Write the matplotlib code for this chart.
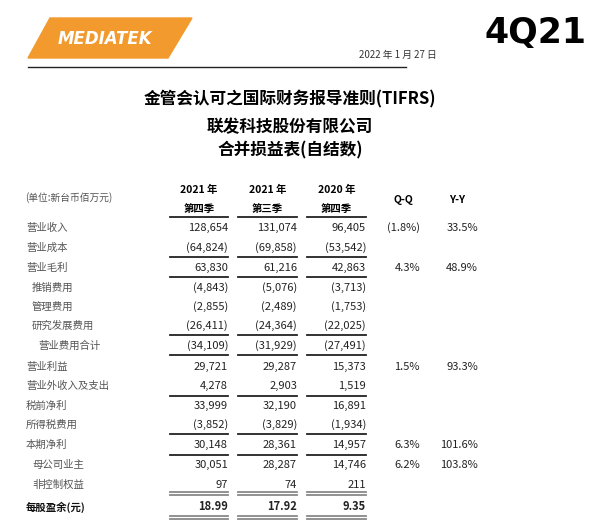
import matplotlib
matplotlib.use("Agg")
import matplotlib.pyplot as plt
from matplotlib.patches import Polygon

FONT = "Noto Sans CJK SC"
plt.rcParams["font.family"] = FONT

row_labels = ["营业收入", "营业成本", "营业毛利", "推销费用", "管理费用", "研究发展费用", "营业费用合计",
              "营业利益", "营业外收入及支出", "税前净利", "所得税费用", "本期净利", "母公司业主", "非控制权益",
              "每股盈余(元)"]
indent = [0, 0, 0, 1, 1, 1, 2, 0, 0, 0, 0, 0, 1, 1, 0]
col_4q21 = ["128,654", "(64,824)", "63,830", "(4,843)", "(2,855)", "(26,411)", "(34,109)",
            "29,721", "4,278", "33,999", "(3,852)", "30,148", "30,051", "97", "18.99"]
col_3q21 = ["131,074", "(69,858)", "61,216", "(5,076)", "(2,489)", "(24,364)", "(31,929)",
            "29,287", "2,903", "32,190", "(3,829)", "28,361", "28,287", "74", "17.92"]
col_4q20 = ["96,405", "(53,542)", "42,863", "(3,713)", "(1,753)", "(22,025)", "(27,491)",
            "15,373", "1,519", "16,891", "(1,934)", "14,957", "14,746", "211", "9.35"]
qq = ["(1.8%)", "", "4.3%", "", "", "", "", "1.5%", "", "", "", "6.3%", "6.2%", "", ""]
yy = ["33.5%", "", "48.9%", "", "", "", "", "93.3%", "", "", "", "101.6%", "103.8%", "", ""]
col_year = ["2021 年", "2021 年", "2020 年"]
col_q = ["第四季", "第三季", "第四季"]

W, H = 600, 522
fig = plt.figure(figsize=(6, 5.22), dpi=100)
ax = fig.add_axes([0, 0, 1, 1])
ax.set_xlim(0, W)
ax.set_ylim(H, 0)
ax.axis("off")

# logo
ax.add_patch(Polygon([[50, 18], [192, 18], [168, 58], [28, 58]], closed=True, color="#f29a2e"))
ax.text(105, 39, "MEDIATEK", color="white", fontsize=12, fontweight="bold", style="italic",
        ha="center", va="center", family="DejaVu Sans")
ax.text(536, 33, "4Q21", fontsize=25, fontweight="bold", ha="center", va="center", family="DejaVu Sans")
ax.text(437, 55, "2022 年 1 月 27 日", fontsize=7, ha="right", va="center", color="#333333")
ax.plot([28, 406], [67, 67], color="#222222", lw=1)

ax.text(290, 99, "金管会认可之国际财务报导准则(TIFRS)", fontsize=12, fontweight="bold", ha="center", va="center")
ax.text(290, 127, "联发科技股份有限公司", fontsize=12, fontweight="bold", ha="center", va="center")
ax.text(290, 150, "合并损益表(自结数)", fontsize=12, fontweight="bold", ha="center", va="center")

ax.text(25, 198, "(单位:新台币佰万元)", fontsize=7, ha="left", va="center", color="#555555")
col_right = [228, 297, 366]
col_left = [170, 238, 307]
for i in range(3):
    cx = (col_right[i] + col_left[i]) / 2
    ax.text(cx, 190, col_year[i], fontsize=7.5, fontweight="bold", ha="center", va="center")
    ax.text(cx, 209, col_q[i], fontsize=7.5, fontweight="bold", ha="center", va="center")
ax.text(403, 200, "Q-Q", fontsize=7.5, fontweight="bold", ha="center", va="center")
ax.text(457, 200, "Y-Y", fontsize=7.5, fontweight="bold", ha="center", va="center")

row_y = [228, 248, 268, 288, 307, 326, 346, 367, 386, 406, 425, 445, 465, 485, 507]
cols = [col_4q21, col_3q21, col_4q20]
for r, lab in enumerate(row_labels):
    y = row_y[r]
    bold = r == len(row_labels) - 1
    ax.text(26 + indent[r] * 6, y, lab, fontsize=7.5, ha="left", va="center",
            color="#111111" if bold else "#555555", fontweight="bold" if bold else "normal")
    for c in range(3):
        ax.text(col_right[c], y, cols[c][r], fontsize=8, ha="right", va="center",
                color="#222222", fontweight="bold" if bold else "normal")
    ax.text(420, y, qq[r], fontsize=8, ha="right", va="center", color="#222222")
    ax.text(478, y, yy[r], fontsize=8, ha="right", va="center", color="#222222")

def rule(y, double=False, color="#222222"):
    for c in range(3):
        ax.plot([col_left[c], col_right[c]], [y, y], color=color, lw=1.3)
        if double:
            ax.plot([col_left[c], col_right[c]], [y + 3, y + 3], color=color, lw=1.3)

for y in [217, 256.5, 277, 335, 355, 396, 434, 454.5]:
    rule(y)
rule(491.5, double=True, color="#888888")
rule(515.5, double=True, color="#888888")

fig.savefig("out.png", dpi=100)
